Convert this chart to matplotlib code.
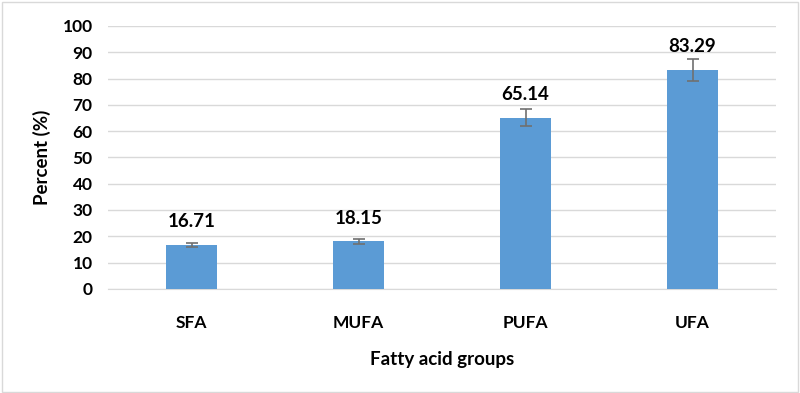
import matplotlib.pyplot as plt
from matplotlib.patches import Rectangle

groups = ["SFA", "MUFA", "PUFA", "UFA"]
values = [16.71, 18.15, 65.14, 83.29]
errors = [0.8, 1.0, 3.3, 4.1]

plt.rcParams['font.family'] = ['Lato', 'DejaVu Sans']
plt.rcParams['font.weight'] = 'bold'

fig = plt.figure(figsize=(8, 3.93), dpi=100)
ax = fig.add_axes([0.135, 0.265, 0.835, 0.669])

x = range(len(groups))
ax.bar(x, values, width=0.31, color='#5B9BD5', zorder=3)
ax.errorbar(x, values, yerr=errors, fmt='none', ecolor='#707070',
            elinewidth=1.2, capsize=4, capthick=1.2, zorder=4)

for i, v in enumerate(values):
    ax.text(i, v + 5.5, f"{v:.2f}", ha='center', va='bottom',
            fontsize=13.5, fontweight='bold', color='black')

ax.set_ylim(0, 100)
ax.set_xlim(-0.5, 3.5)
ax.set_yticks(range(0, 101, 10))
ax.set_xticks(list(x))
ax.set_xticklabels(groups)
ax.tick_params(axis='both', length=0, labelsize=12.5)
ax.tick_params(axis='x', pad=19)
ax.tick_params(axis='y', pad=11)
ax.grid(axis='y', color='#D9D9D9', linewidth=1, zorder=0)
for s in ['top', 'right', 'left']:
    ax.spines[s].set_visible(False)
ax.spines['bottom'].set_color('#D9D9D9')

ax.set_xlabel("Fatty acid groups", fontsize=13.5, fontweight='bold', labelpad=14)
ax.set_ylabel("Percent (%)", fontsize=13.5, fontweight='bold', labelpad=8)

fig.patches.append(Rectangle((0.002, 0.003), 0.995, 0.993, transform=fig.transFigure,
                             fill=False, edgecolor='#D9D9D9', linewidth=1))

fig.savefig('out.png', dpi=100)
